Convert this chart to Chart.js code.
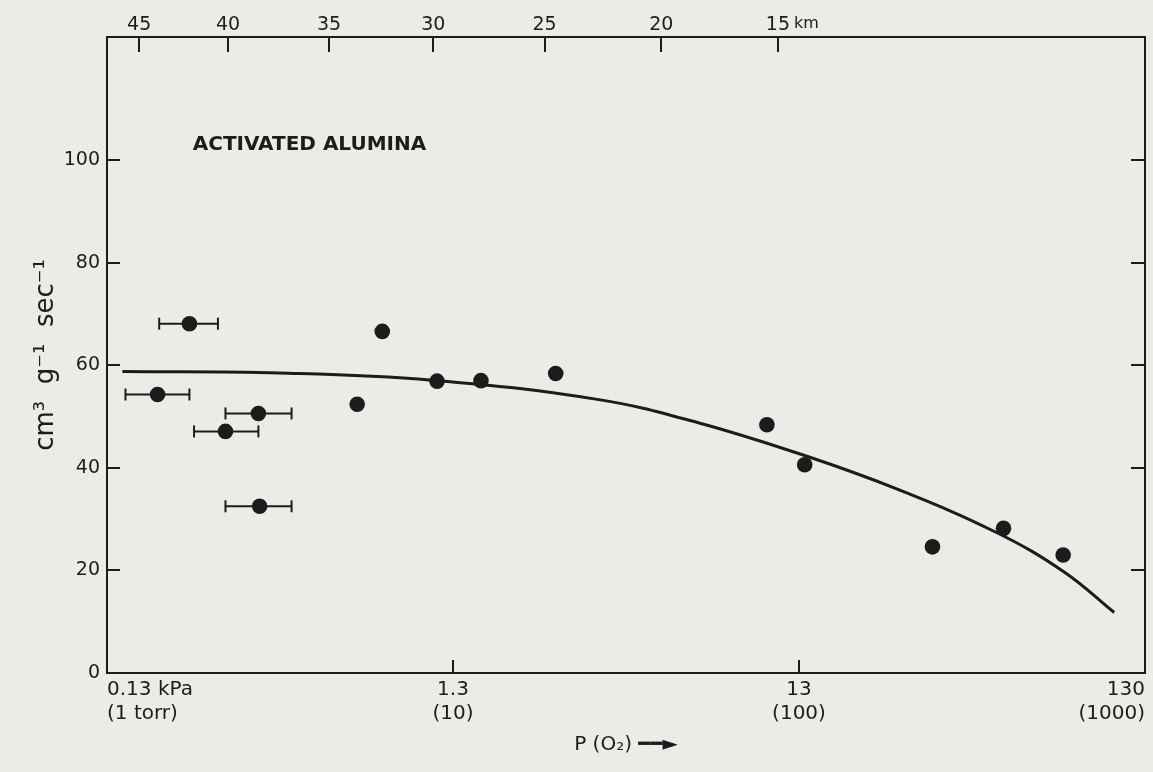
<!DOCTYPE html>
<html lang="en">
<head>
<meta charset="UTF-8">
<title>Activated Alumina</title>
<script src="https://cdn.jsdelivr.net/npm/chart.js"></script>
<style>
    body {
        margin: 0;
        background-color: #ebebe8;
    }
    canvas {
        display: block;
        background-color: #ebebe8;
    }
</style>
</head>
<body>
<canvas id="grafico" width="1153" height="772"></canvas>
<script>
    // measured points: P(O2) in kPa, rate in cm3 g-1 sec-1
    const pressure = [0.225, 0.182, 0.356, 0.286, 0.359, 0.812, 0.687, 1.169, 1.566, 2.575, 10.5, 13.5, 31.6, 50.7, 75.4];
    const rate = [68.1, 54.3, 50.6, 47.1, 32.5, 66.6, 52.4, 56.9, 57.0, 58.4, 48.4, 40.6, 24.6, 28.2, 23.0];
    // horizontal error bars (only the low pressure runs have them)
    const errLow = [0.184, 0.147, 0.286, 0.232, 0.286];
    const errHigh = [0.272, 0.225, 0.444, 0.356, 0.444];

    // fitted curve
    const curveP = [0.144, 0.410, 1.13, 3.43, 6.65, 13.5, 25.1, 48.7, 75.9, 105.9];
    const curveV = [58.8, 58.5, 57.1, 53.3, 48.8, 42.4, 35.8, 27.3, 19.7, 11.8];

    // axes
    const pressureTicks = [0.13, 1.3, 13, 130];
    const pressureLabels = [['0.13 kPa', '(1 torr)'], ['1.3', '(10)'], ['13', '(100)'], ['130', '(1000)']];
    const kmPressure = [0.161, 0.291, 0.570, 1.14, 2.39, 5.20, 11.3];
    const kmLabels = ['45', '40', '35', '30', '25', '20', '15'];
    const yTicks = [0, 20, 40, 60, 80, 100];

    const ink = '#1c1c1c';

    const datasets = [{
        data: pressure.map((p, i) => ({x: p, y: rate[i]})),
        pointRadius: 7.8,
        pointBackgroundColor: ink,
        pointBorderWidth: 0
    }, {
        data: curveP.map((p, i) => ({x: p, y: curveV[i]})),
        showLine: true,
        borderColor: ink,
        borderWidth: 3,
        pointRadius: 0,
        tension: 0.4
    }];
    errLow.forEach((lo, i) => {
        datasets.push({
            data: [{x: lo, y: rate[i]}, {x: errHigh[i], y: rate[i]}],
            showLine: true,
            borderColor: ink,
            borderWidth: 2,
            pointStyle: 'line',
            rotation: 90,
            pointRadius: 6,
            pointBorderWidth: 2,
            pointBorderColor: ink
        });
    });

    // tick marks drawn inside the frame, plus the sample label and "km"
    const insideTicks = {
        id: 'insideTicks',
        afterDraw(chart) {
            const ctx = chart.ctx;
            const a = chart.chartArea;
            const s = chart.scales;
            ctx.save();
            ctx.strokeStyle = ink;
            ctx.lineWidth = 2;
            ctx.beginPath();
            s.y.ticks.forEach(t => {
                if (t.value === 0) return;
                const py = Math.round(s.y.getPixelForValue(t.value));
                ctx.moveTo(a.left, py);
                ctx.lineTo(a.left + 13, py);
                ctx.moveTo(a.right, py);
                ctx.lineTo(a.right - 14, py);
            });
            s.x.ticks.forEach((t, i) => {
                if (i === 0 || i === s.x.ticks.length - 1) return;
                const px = Math.round(s.x.getPixelForValue(t.value));
                ctx.moveTo(px, a.bottom);
                ctx.lineTo(px, a.bottom - 13);
            });
            s.x2.ticks.forEach(t => {
                const px = Math.round(s.x2.getPixelForValue(t.value));
                ctx.moveTo(px, a.top);
                ctx.lineTo(px, a.top + 15);
            });
            ctx.stroke();

            ctx.fillStyle = ink;
            ctx.textBaseline = 'middle';
            ctx.font = 'bold 20px "DejaVu Sans"';
            ctx.fillText('ACTIVATED ALUMINA', s.x.getPixelForValue(0.23), s.y.getPixelForValue(102.9));

            // unit after the last altitude label
            const last = s.x2.ticks[s.x2.ticks.length - 1];
            ctx.font = '16px "DejaVu Sans"';
            ctx.fillText('km', s.x2.getPixelForValue(last.value) + 16, 24);
            ctx.restore();
        }
    };

    new Chart(document.getElementById('grafico'), {
        type: 'scatter',
        data: {datasets: datasets},
        plugins: [insideTicks],
        options: {
            responsive: false,
            animation: false,
            devicePixelRatio: 1,
            layout: {padding: 0},
            plugins: {
                legend: {display: false},
                tooltip: {enabled: false}
            },
            scales: {
                x: {
                    type: 'logarithmic',
                    position: 'bottom',
                    min: 0.13,
                    max: 130,
                    bounds: 'data',
                    afterBuildTicks: sc => { sc.ticks = pressureTicks.map(v => ({value: v})); },
                    afterFit: sc => { sc.height = 99; },
                    grid: {drawOnChartArea: false, drawTicks: false},
                    border: {color: ink, width: 2},
                    ticks: {
                        align: 'inner',
                        padding: 5,
                        color: ink,
                        font: {family: 'DejaVu Sans', size: 20},
                        callback: (v, i) => pressureLabels[i]
                    },
                    title: {
                        display: true,
                        text: 'P (O\u2082) \u2501\u2501\u25BA',
                        color: ink,
                        font: {family: 'DejaVu Sans', size: 20},
                        padding: {top: 0, bottom: 15}
                    }
                },
                x2: {
                    type: 'logarithmic',
                    position: 'top',
                    min: 0.13,
                    max: 130,
                    bounds: 'data',
                    afterBuildTicks: sc => { sc.ticks = kmPressure.map(v => ({value: v})); },
                    afterFit: sc => { sc.height = 37; },
                    grid: {drawOnChartArea: false, drawTicks: false},
                    border: {color: ink, width: 2},
                    ticks: {
                        padding: 1,
                        color: ink,
                        font: {family: 'DejaVu Sans', size: 19},
                        callback: (v, i) => kmLabels[i]
                    }
                },
                y: {
                    position: 'left',
                    min: 0,
                    max: 124,
                    bounds: 'data',
                    afterBuildTicks: sc => { sc.ticks = yTicks.map(v => ({value: v})); },
                    afterFit: sc => { sc.width = 107; },
                    grid: {drawOnChartArea: false, drawTicks: false},
                    border: {color: ink, width: 2},
                    ticks: {
                        padding: 7,
                        color: ink,
                        font: {family: 'DejaVu Sans', size: 19}
                    },
                    title: {
                        display: true,
                        text: 'cm\u00B3  g\u207B\u00B9  sec\u207B\u00B9',
                        color: ink,
                        font: {family: 'DejaVu Sans', size: 26},
                        padding: {top: 31, bottom: 0}
                    }
                },
                y2: {
                    position: 'right',
                    min: 0,
                    max: 124,
                    bounds: 'data',
                    afterBuildTicks: sc => { sc.ticks = yTicks.map(v => ({value: v})); },
                    afterFit: sc => { sc.width = 5; },
                    grid: {drawOnChartArea: false, drawTicks: false},
                    border: {color: ink, width: 2},
                    ticks: {display: false}
                }
            }
        }
    });
</script>
</body>
</html>
